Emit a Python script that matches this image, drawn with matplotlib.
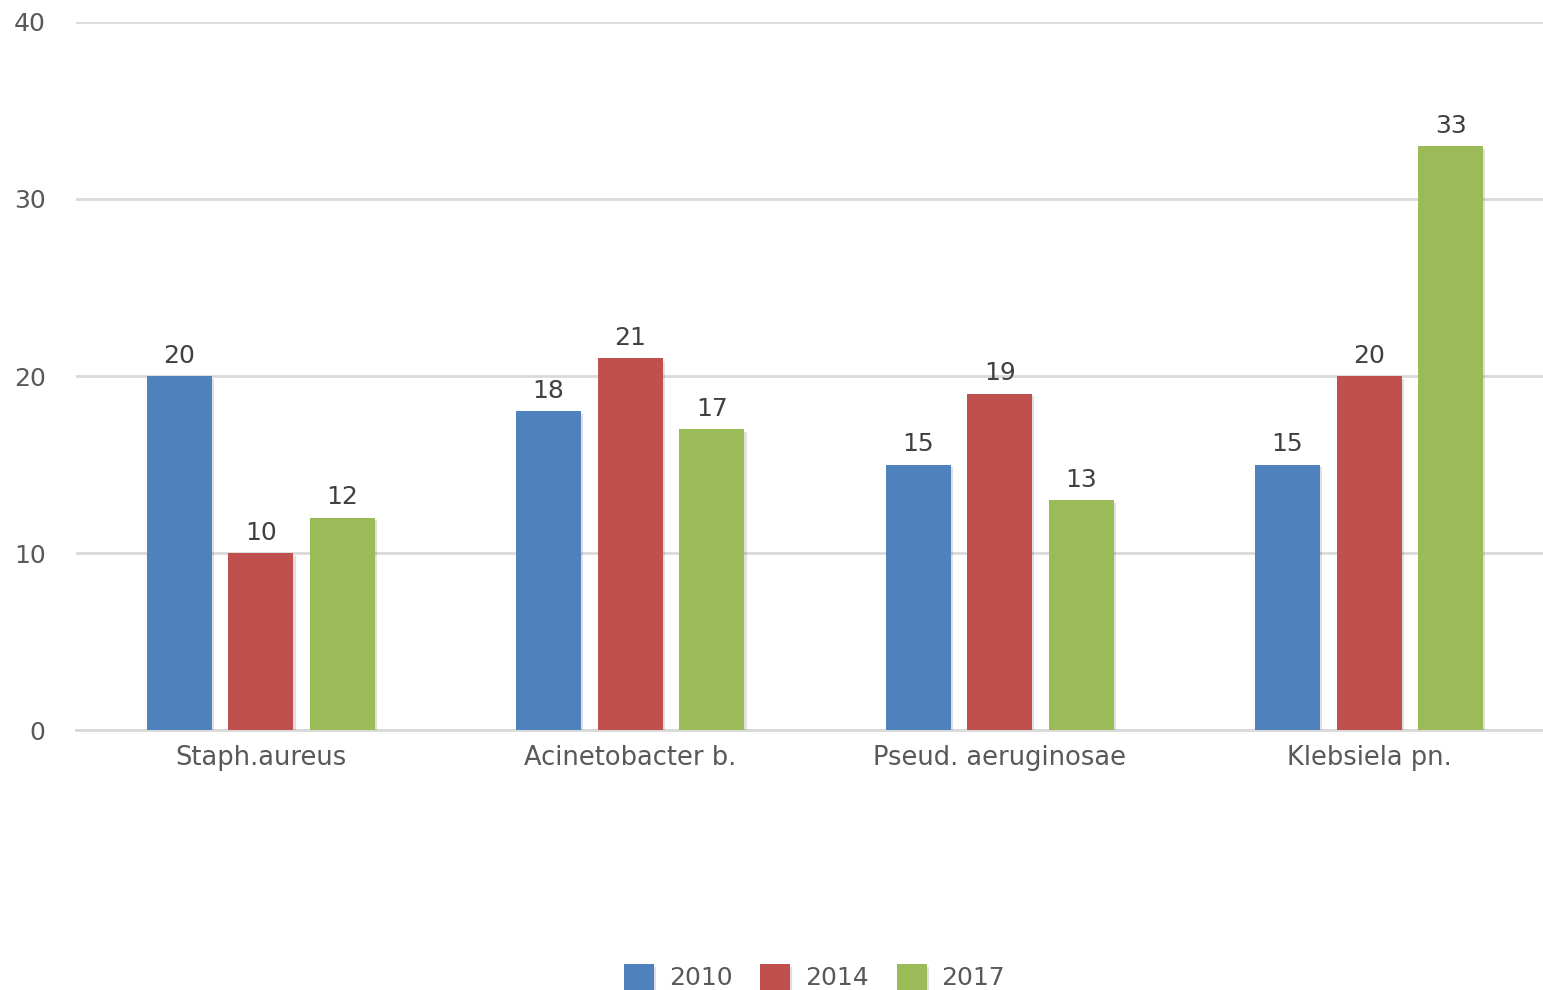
import matplotlib.pyplot as plt
import matplotlib.patheffects as pe
import numpy as np

categories = ['Staph.aureus', 'Acinetobacter b.', 'Pseud. aeruginosae', 'Klebsiela pn.']
years = ['2010', '2014', '2017']
v2010 = [20, 18, 15, 15]
v2014 = [10, 21, 19, 20]
v2017 = [12, 17, 13, 33]
colors = ['#4F81BD', '#C0504D', '#9BBB59']

plt.rcParams['font.family'] = ['DejaVu Sans']

fig = plt.figure(figsize=(15.43, 9.9), dpi=100)
# plot area runs slightly past the right edge, like the original
ax = fig.add_axes([0.0494, 0.2626, 0.9576, 0.7152])

x = np.arange(len(categories))
width = 0.176
offsets = [-0.221, 0, 0.221]
shadow = [pe.SimplePatchShadow(offset=(1.5, -2), shadow_rgbFace='#000000', alpha=0.12), pe.Normal()]

for vals, off, col, yr in zip([v2010, v2014, v2017], offsets, colors, years):
    bars = ax.bar(x + off, vals, width, color=col, label=yr, zorder=3)
    for b, v in zip(bars, vals):
        b.set_path_effects(shadow)
        ax.annotate(str(v), (b.get_x() + b.get_width() / 2, v), xytext=(0, 6),
                    textcoords='offset points', ha='center', va='bottom',
                    fontsize=18, color='#404040')

ax.set_xlim(-0.5, 3.5)
ax.set_ylim(0, 40)
ax.set_yticks([0, 10, 20, 30, 40])
ax.set_xticks(x)
ax.set_xticklabels(categories)
ax.yaxis.grid(True, color='#D9D9D9', linewidth=2, zorder=0)
ax.axhline(0, color='#D9D9D9', linewidth=2, clip_on=False, zorder=1)
ax.tick_params(axis='y', length=0, pad=22, labelsize=18, labelcolor='#595959')
ax.tick_params(axis='x', length=0, pad=11, labelsize=18.5, labelcolor='#595959')
for s in ax.spines.values():
    s.set_visible(False)

fig.legend(loc='center', bbox_to_anchor=(0.528, 0.013), ncol=3, frameon=False,
           fontsize=18, labelcolor='#595959', handlelength=1.2, handleheight=1.2,
           columnspacing=1.1, handletextpad=0.6)

fig.savefig('out.png', dpi=100)
